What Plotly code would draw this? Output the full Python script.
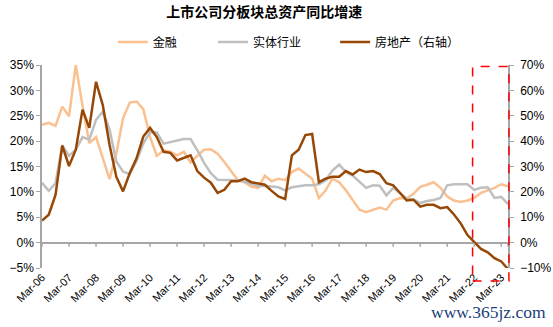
import plotly.graph_objects as go

# Quarterly, Mar-06 .. Jun-23
years = list(range(6, 24))
tick_labels = [f"Mar-{y:02d}" for y in years]
n_points = 70

finance = [23.2, 23.6, 23.0, 26.8, 24.9, 35.0, 27.0, 19.6, 20.8, 16.6,
           12.5, 17.5, 24.5, 27.6, 27.8, 26.3, 20.8, 17.1, 18.2, 17.9,
           17.2, 17.9, 15.8, 17.1, 18.3, 18.4, 17.5, 15.9, 14.0, 12.3,
           11.9, 11.0, 10.8, 13.2, 12.1, 12.6, 12.3, 13.9, 14.6, 13.6,
           12.6, 8.8, 10.3, 12.6, 11.9, 10.3, 8.4, 6.5, 6.0, 6.5,
           6.9, 6.5, 8.3, 8.8, 8.7, 9.6, 11.0, 11.4, 11.9, 10.8,
           9.1, 8.3, 8.0, 8.3, 8.8, 9.8, 10.3, 10.8, 11.5, 11.1]

industry = [11.8, 10.2, 11.7, 19.2, 17.1, 18.3, 20.8, 20.3, 24.2, 25.8,
            22.3, 16.0, 14.0, 13.5, 16.1, 19.5, 21.8, 21.7, 19.5, 19.8,
            20.1, 20.4, 20.4, 18.2, 15.7, 13.7, 12.4, 12.4, 12.4, 12.3,
            12.0, 11.5, 11.1, 11.2, 11.0, 10.9, 10.3, 10.9, 11.1, 11.3,
            11.3, 11.5, 12.3, 14.2, 15.4, 13.9, 13.2, 11.9, 10.8, 11.3,
            11.2, 9.3, 10.8, 9.8, 8.7, 8.5, 7.8, 8.2, 8.4, 8.8,
            11.3, 11.5, 11.5, 11.5, 10.4, 10.8, 10.9, 8.8, 9.0, 7.6]

real_estate = [8.7, 11.0, 18.8, 38.2, 30.2, 36.6, 52.4, 45.2, 63.4, 54.2,
               38.6, 26.0, 20.2, 27.4, 33.2, 41.8, 45.2, 41.6, 35.8, 35.4,
               32.4, 33.4, 34.4, 28.2, 25.6, 23.6, 19.6, 20.8, 24.2, 24.2,
               25.2, 23.8, 23.2, 22.8, 20.4, 18.2, 17.2, 34.4, 36.6, 42.4,
               42.8, 23.8, 25.2, 26.0, 26.0, 28.2, 26.8, 28.8, 27.8, 28.2,
               27.0, 23.4, 22.6, 19.8, 16.6, 16.9, 14.2, 14.9, 14.9, 13.6,
               14.0, 11.1, 7.6, 3.0, 0.4, -2.5, -3.8, -6.1, -7.4, -10.4]

x = list(range(n_points))
tick_vals = [4 * k for k in range(len(tick_labels))]

FONT = "Arial, 'Liberation Sans', 'Noto Sans CJK SC', sans-serif"
C_FIN = "#FAC090"
C_IND = "#BFBFBF"
C_RE = "#974706"
AX = "#A6A6A6"

fig = go.Figure()
fig.add_trace(go.Scatter(x=x, y=finance, name="金融", mode="lines",
                         line=dict(color=C_FIN, width=2.5), legend="legend"))
fig.add_trace(go.Scatter(x=x, y=industry, name="实体行业", mode="lines",
                         line=dict(color=C_IND, width=2.5), legend="legend2"))
fig.add_trace(go.Scatter(x=x, y=real_estate, name="房地产（右轴）", mode="lines",
                         line=dict(color=C_RE, width=2.5), yaxis="y2", legend="legend3"))

shapes = []
# tick marks on the zero line
for tv in tick_vals + [n_points - 1]:
    shapes.append(dict(type="line", xref="x", yref="y", x0=tv, x1=tv, y0=0, y1=-0.8,
                       line=dict(color=AX, width=1.5)))
# red dashed highlight box
shapes.append(dict(type="rect", xref="paper", yref="paper",
                   x0=0.924, x1=1.002, y0=-0.064, y1=0.992,
                   line=dict(color="#FF0000", width=1.5, dash="dash"),
                   fillcolor="rgba(0,0,0,0)", layer="above"))

legend_common = dict(orientation="h", yanchor="middle", y=1.113, xanchor="left",
                     font=dict(family=FONT, size=12, color="#000000"),
                     bgcolor="rgba(0,0,0,0)", itemwidth=30)

fig.update_layout(
    width=553, height=327,
    margin=dict(l=42, r=45, t=65, b=59),
    paper_bgcolor="white", plot_bgcolor="white",
    font=dict(family=FONT, size=11, color="#000000"),
    title=dict(text="<b>上市公司分板块总资产同比增速</b>", x=0.477, xref="paper",
               xanchor="center", y=0.963, yref="container", yanchor="middle",
               font=dict(family=FONT, size=14, color="#000000")),
    xaxis=dict(range=[0, n_points - 1], tickmode="array", tickvals=tick_vals,
               ticktext=tick_labels, tickangle=-45, showline=False, showgrid=False,
               zeroline=False, ticks="", tickfont=dict(size=11)),
    yaxis=dict(range=[-5, 35], dtick=5, ticksuffix="%", showgrid=False,
               zeroline=True, zerolinecolor=AX, zerolinewidth=1.5,
               showline=True, linecolor=AX, linewidth=1.5, automargin=False,
               ticks="outside", ticklen=4, tickcolor=AX, tickfont=dict(size=12)),
    yaxis2=dict(range=[-10, 70], dtick=10, ticksuffix="%", overlaying="y", side="right",
                showgrid=False, zeroline=False, showline=True, linecolor=AX, linewidth=1.5,
                ticks="outside", ticklen=4, tickcolor=AX, tickfont=dict(size=12),
                ticklabelstandoff=4, automargin=False),
    legend=dict(legend_common, x=0.152),
    legend2=dict(legend_common, x=0.367),
    legend3=dict(legend_common, x=0.629),
    shapes=shapes,
    showlegend=True,
    annotations=[dict(text="www.365jz.com", xref="paper", yref="paper",
                      x=(488 - 42) / 466, y=(268 - 311.5) / 203,
                      xanchor="center", yanchor="middle", showarrow=False,
                      font=dict(family="'Liberation Serif', 'DejaVu Serif', serif",
                                size=17.5, color="#1B3F7A"))],
)

fig.write_html("out.html")
